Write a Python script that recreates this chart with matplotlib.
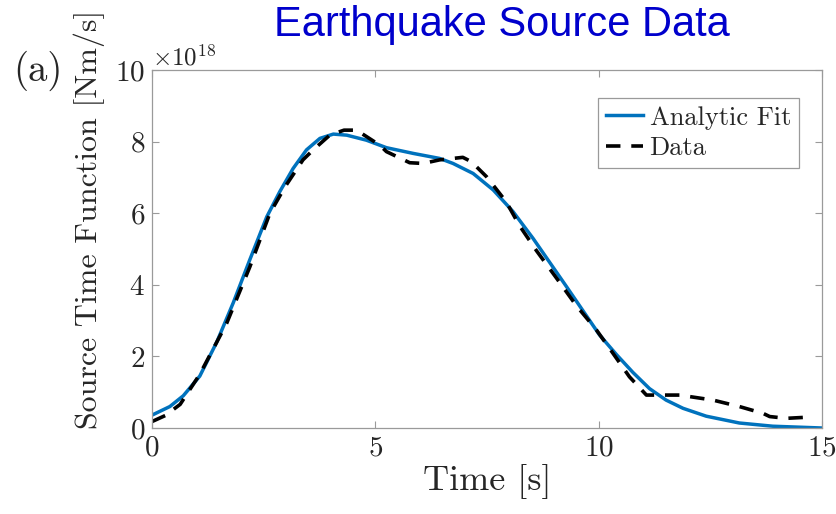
import matplotlib.pyplot as plt
from matplotlib.ticker import ScalarFormatter
import numpy as np

plt.rcParams['font.family'] = 'serif'
plt.rcParams['font.serif'] = ['cmr10', 'DejaVu Serif']
plt.rcParams['mathtext.fontset'] = 'cm'
plt.rcParams['axes.formatter.use_mathtext'] = True

# Analytic fit (time in s, moment rate in 1e18 Nm/s)
fit_t = [0.0, 0.4, 0.7, 1.07, 1.45, 1.82, 2.19, 2.57, 2.86, 3.16, 3.46, 3.76,
         4.06, 4.36, 4.8, 5.25, 5.85, 6.44, 6.74, 7.19, 7.64, 8.08, 8.53,
         9.28, 10.02, 10.4, 10.77, 11.14, 11.51, 11.89, 12.41, 13.15, 13.9, 15.0]
fit_y = [0.36, 0.6, 0.9, 1.45, 2.4, 3.5, 4.7, 5.9, 6.6, 7.25, 7.77, 8.09,
         8.21, 8.18, 8.04, 7.83, 7.67, 7.53, 7.39, 7.11, 6.65, 6.05, 5.3,
         3.95, 2.6, 2.05, 1.55, 1.1, 0.78, 0.55, 0.33, 0.14, 0.05, 0.0]

# Observed data
data_t = [0.0, 0.3, 0.63, 1.07, 1.67, 2.19, 2.64, 2.98, 3.38, 3.61, 3.98, 4.3,
          4.58, 5.1, 5.25, 5.77, 6.07, 6.44, 6.96, 7.15, 7.49, 7.93, 8.23,
          8.61, 9.05, 9.5, 9.95, 10.32, 10.69, 11.07, 11.81, 12.56, 13.15,
          13.68, 13.83, 14.2, 14.65]
data_y = [0.18, 0.35, 0.66, 1.5, 2.92, 4.5, 6.0, 6.74, 7.49, 7.77, 8.18, 8.32,
          8.32, 7.9, 7.72, 7.41, 7.39, 7.49, 7.56, 7.44, 7.02, 6.32, 5.65,
          4.95, 4.2, 3.42, 2.74, 2.09, 1.43, 0.92, 0.92, 0.78, 0.6,
          0.41, 0.32, 0.27, 0.3]

scale = 1e18
text_col = '#262626'
axis_col = '#9a9a9a'

fig = plt.figure(figsize=(8.37, 5.14), dpi=100)
ax = fig.add_axes([0.1816, 0.1673, 0.8004, 0.6965])

ax.plot(fit_t, np.array(fit_y) * scale, color='#0072BD', lw=2.5, label='Analytic Fit')
ax.plot(data_t, np.array(data_y) * scale, color='black', lw=2.6, ls=(0, (4, 3)), label='Data')

ax.set_xlim(0, 15)
ax.set_ylim(0, 10 * scale)
ax.set_xticks([0, 5, 10, 15])
ax.set_yticks(np.arange(0, 11, 2) * scale)

fmt = ScalarFormatter(useMathText=True)
fmt.set_powerlimits((18, 18))
ax.yaxis.set_major_formatter(fmt)

ax.tick_params(direction='in', top=True, right=True, length=5, width=0.8,
               color=axis_col, labelsize=21, labelcolor=text_col, pad=5)
for s in ax.spines.values():
    s.set_color(axis_col)
    s.set_linewidth(0.9)
ax.yaxis.get_offset_text().set_fontsize(18)
ax.yaxis.get_offset_text().set_color(text_col)

ax.set_xlabel('Time [s]', fontsize=26, color=text_col, labelpad=2)
ax.set_ylabel('Source Time Function [Nm/s]', fontsize=23, color=text_col)
ax.yaxis.set_label_coords(-0.07, 0.584)

leg = ax.legend(loc='upper right', bbox_to_anchor=(0.9657, 0.9218), fontsize=19,
                handlelength=1.4, handletextpad=0.25, borderpad=0.3,
                labelspacing=0.25, fancybox=False, framealpha=1,
                edgecolor=axis_col, borderaxespad=0)
leg.get_frame().set_linewidth(0.9)
for t in leg.get_texts():
    t.set_color(text_col)

fig.text(0.0454, 0.862, '(a)', fontsize=28, color=text_col, ha='center', va='center')
fig.text(0.5998, 0.9514, 'Earthquake Source Data', fontsize=30, color='#0000CC',
         family='Liberation Sans', ha='center', va='center')

fig.savefig('out.png', dpi=100)
